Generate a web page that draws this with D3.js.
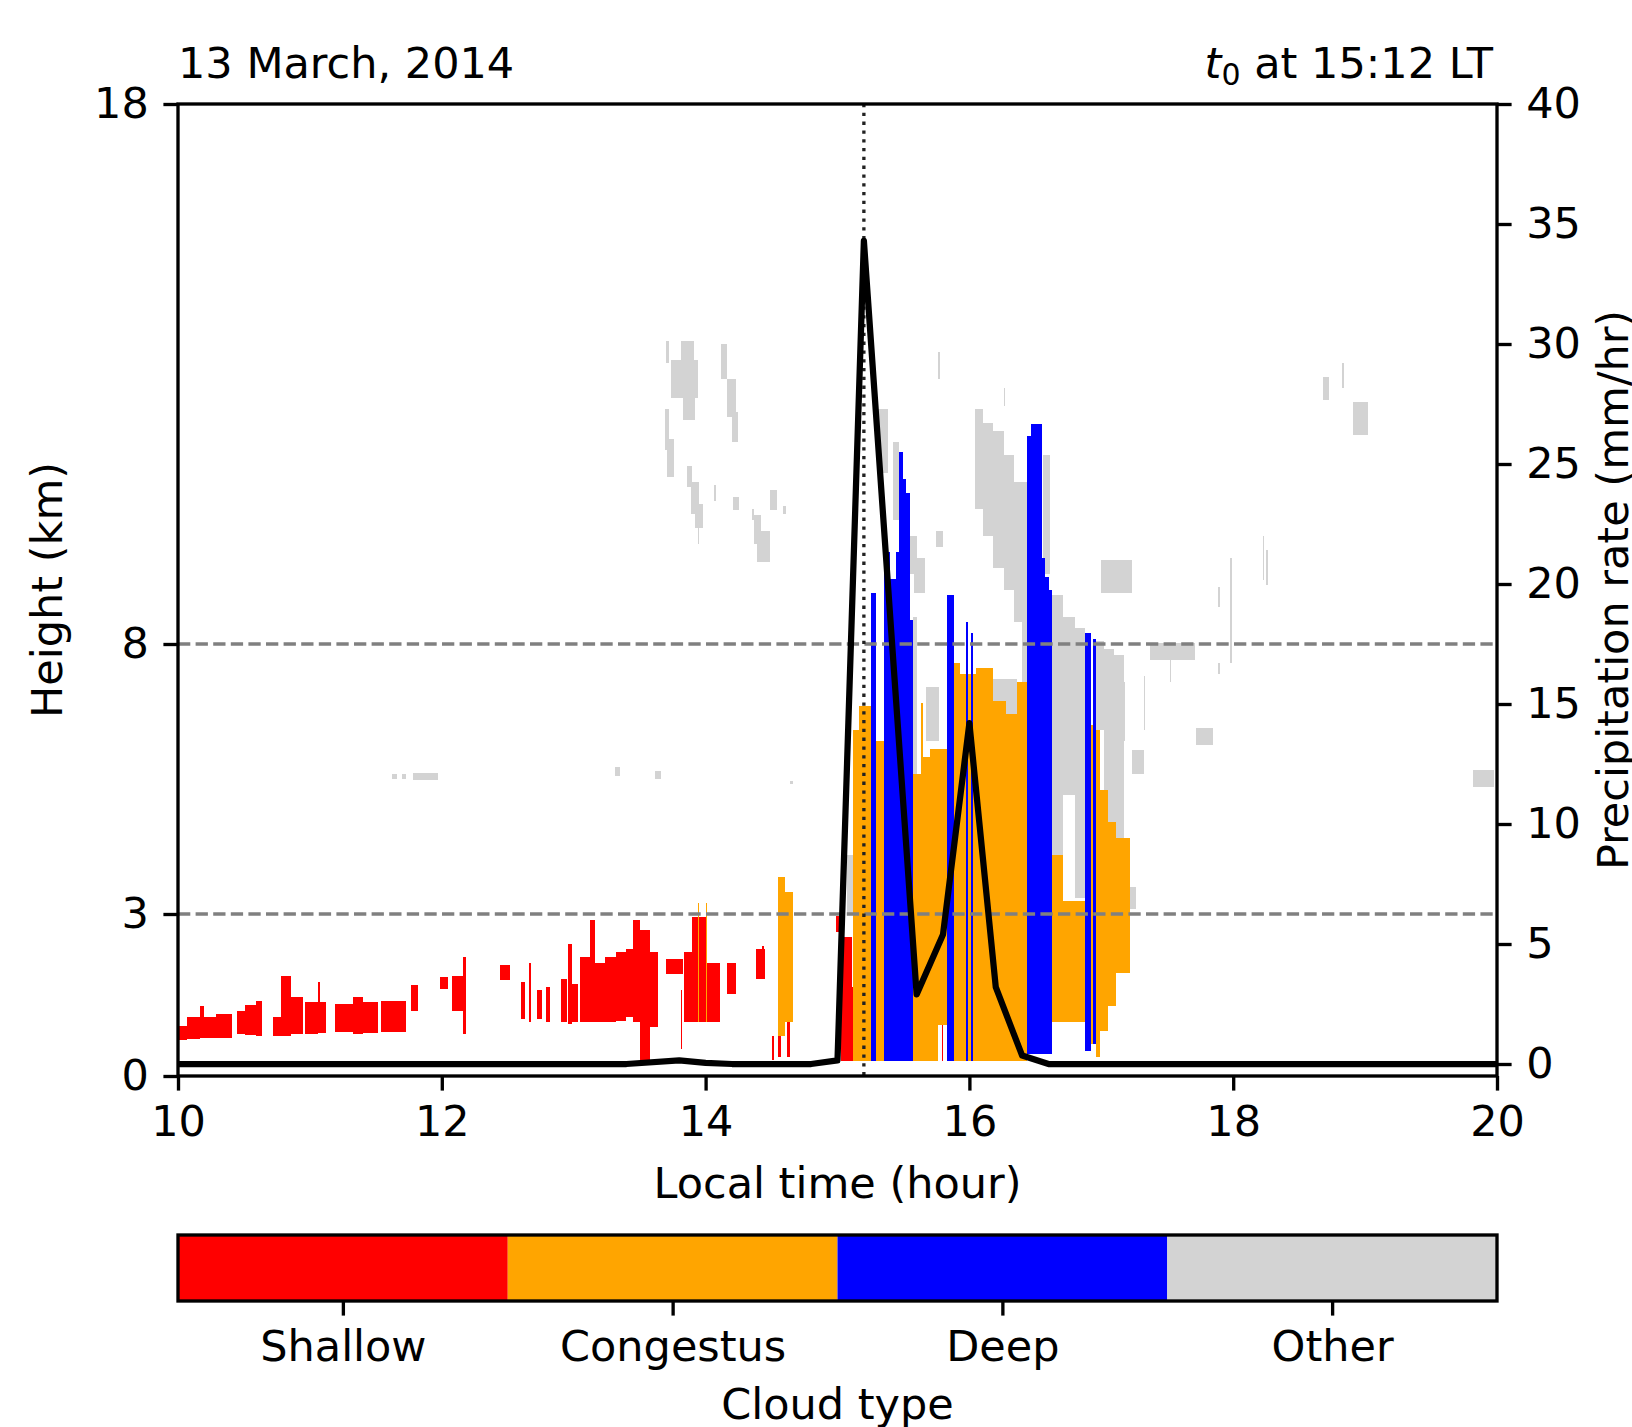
<!DOCTYPE html>
<html>
<head>
<meta charset="utf-8">
<script src="https://cdn.jsdelivr.net/npm/d3@7"></script>
<style>
  html, body { margin: 0; padding: 0; background: #fff; overflow: hidden; }
  svg { display: block; }
  svg text { font-family: "DejaVu Sans", sans-serif; }
</style>
</head>
<body>
<div id="chart"></div>
<script>
// radar cloud cells: [time start (h), time end (h), base (km), top (km)]
const shallowCells = [
  [10.00,10.07,0.66,0.92],[10.07,10.17,0.68,1.09],[10.17,10.20,0.70,1.29],[10.20,10.29,0.70,1.09],
  [10.29,10.41,0.70,1.14],[10.45,10.51,0.78,1.21],[10.51,10.59,0.76,1.31],[10.59,10.64,0.74,1.39],
  [10.72,10.78,0.75,1.09],[10.78,10.86,0.75,1.85],[10.86,10.95,0.77,1.46],[10.96,11.06,0.77,1.37],
  [11.06,11.08,0.80,1.74],[11.08,11.12,0.80,1.37],[11.19,11.33,0.81,1.34],[11.33,11.40,0.78,1.46],
  [11.40,11.52,0.80,1.37],[11.54,11.73,0.81,1.38],[11.77,11.82,1.21,1.68],[11.99,12.05,1.61,1.84],
  [12.08,12.16,1.21,1.86],[12.16,12.18,0.78,2.21],[12.44,12.52,1.77,2.05],[12.60,12.63,1.05,1.75],
  [12.66,12.68,1.00,2.10],[12.72,12.76,1.05,1.60],[12.79,12.82,1.00,1.65],[12.90,12.95,1.00,1.80],
  [12.96,12.99,0.97,2.45],[12.99,13.03,1.00,1.70],[13.05,13.12,1.00,2.20],[13.12,13.16,1.00,2.88],
  [13.16,13.24,1.00,2.10],[13.24,13.32,1.00,2.20],[13.32,13.40,1.02,2.30],[13.40,13.45,1.09,2.35],
  [13.45,13.50,1.00,2.88],[13.50,13.58,0.29,2.70],[13.58,13.64,0.90,2.30],[13.70,13.83,1.89,2.17],
  [13.81,13.82,0.50,1.60],[13.84,13.90,1.00,2.30],[13.90,14.00,1.00,2.94],[14.00,14.11,1.00,2.10],
  [14.16,14.23,1.52,2.10],[14.38,14.45,1.80,2.35],[14.43,14.44,1.80,2.40],[14.50,14.52,0.30,0.75],
  [14.55,14.57,0.35,1.00],[14.62,14.64,0.35,1.50],[14.99,15.02,2.66,2.97],[15.03,15.11,0.28,2.57],
  [15.11,15.18,0.28,1.64],[15.26,15.29,0.28,0.60],[15.79,15.80,0.28,2.80]
];
const congestusCells = [
  [13.94,13.945,1.00,3.20],[14.00,14.005,1.00,3.20],[14.55,14.60,0.75,3.68],[14.60,14.66,1.00,3.40],
  [15.12,15.16,0.28,6.40],[15.16,15.255,0.28,6.85],[15.29,15.35,0.28,6.20],[15.575,15.63,0.28,5.60],
  [15.63,15.65,0.28,6.90],[15.65,15.70,0.28,5.90],[15.70,15.76,0.28,6.05],[15.76,15.83,0.95,6.05],
  [15.88,15.93,0.28,7.65],[15.93,16.05,0.28,7.45],[16.05,16.18,0.28,7.55],[16.18,16.28,0.28,6.95],
  [16.28,16.36,0.28,6.70],[16.36,16.435,0.28,7.30],[16.63,16.71,1.00,4.10],[16.71,16.875,1.00,3.25],
  [16.92,16.94,0.60,6.50],[16.96,16.99,0.35,6.40],[16.99,17.05,0.84,5.30],[17.05,17.11,1.30,4.70],
  [17.11,17.22,1.90,4.40]
];
const deepCells = [
  [15.255,15.29,0.28,8.95],[15.35,15.40,0.28,9.70],[15.40,15.44,0.28,9.20],[15.44,15.47,0.28,9.70],
  [15.47,15.50,0.28,11.55],[15.50,15.52,0.28,11.05],[15.52,15.55,0.28,10.80],[15.55,15.575,0.28,8.45],
  [15.83,15.88,0.28,8.90],[15.975,15.983,0.28,8.40],[16.015,16.022,0.28,8.20],[16.435,16.47,0.40,11.85],
  [16.47,16.55,0.40,12.08],[16.55,16.57,0.40,9.60],[16.57,16.60,0.40,9.25],[16.60,16.63,0.40,9.00],
  [16.875,16.92,0.47,8.20],[16.94,16.96,0.60,8.10]
];
const otherCells = [
  [11.62,11.66,5.50,5.60],[11.70,11.73,5.50,5.60],[11.78,11.97,5.48,5.62],[13.31,13.35,5.55,5.72],
  [13.62,13.66,5.50,5.65],[14.64,14.66,5.40,5.46],[13.70,13.72,13.20,13.62],[13.81,13.91,13.20,13.62],
  [13.74,13.945,12.55,13.26],[13.83,13.92,12.15,12.55],[13.69,13.72,11.60,12.35],[13.71,13.76,11.10,11.80],
  [13.86,13.90,10.90,11.30],[13.89,13.95,10.40,11.00],[13.92,13.98,10.15,10.60],[13.94,13.95,9.85,10.20],
  [14.065,14.075,10.65,10.95],[14.12,14.16,12.90,13.55],[14.16,14.23,12.20,12.90],[14.20,14.245,11.75,12.30],
  [14.21,14.25,10.48,10.73],[14.355,14.365,10.30,10.50],[14.37,14.42,9.85,10.39],[14.39,14.49,9.52,10.10],
  [14.49,14.54,10.48,10.85],[14.59,14.61,10.40,10.55],[15.07,15.12,3.00,4.10],[15.31,15.385,11.16,12.36],
  [15.42,15.47,10.30,11.75],[15.55,15.60,9.30,10.00],[15.58,15.66,8.95,9.60],[15.575,15.60,5.50,8.50],
  [15.67,15.77,6.20,7.20],[15.75,15.80,9.80,10.10],[15.765,15.78,12.90,13.40],[16.04,16.10,10.50,12.35],
  [16.10,16.18,10.00,12.10],[16.18,16.26,9.40,11.95],[16.26,16.34,9.00,11.50],[16.34,16.44,8.40,11.00],
  [16.26,16.27,12.40,12.75],[16.18,16.36,6.65,7.35],[16.40,16.435,7.30,8.40],[16.56,16.61,9.30,11.50],
  [16.63,16.71,4.10,8.90],[16.71,16.80,5.20,8.50],[16.80,16.875,3.30,8.30],[16.96,17.02,6.40,8.05],
  [17.02,17.10,4.70,7.90],[17.10,17.17,4.40,7.80],[17.165,17.175,6.20,7.30],[17.19,17.26,3.10,3.50],
  [17.00,17.23,8.94,9.55],[17.23,17.32,5.60,6.04],[17.32,17.33,6.40,7.40],[17.37,17.71,7.71,8.01],
  [17.52,17.53,7.30,7.75],[17.72,17.85,6.13,6.44],[17.885,17.895,8.69,9.06],[17.885,17.895,7.45,7.65],
  [17.975,17.99,7.64,9.60],[18.225,18.235,9.18,10.00],[18.25,18.26,9.10,9.75],[18.68,18.73,12.52,12.95],
  [18.825,18.835,12.74,13.20],[18.91,19.02,11.87,12.49],[19.82,19.98,5.36,5.67]
];

// precipitation rate (mm/hr) at local time (h)
const precipTime = [10.0, 13.4, 13.8, 14.0, 14.2, 14.8, 15.0, 15.2, 15.6, 15.8, 16.0, 16.2, 16.4, 16.6, 20.0];
const precipRate = [0,    0,    0.15, 0.05, 0,    0,    0.15, 34.3, 2.9,  5.4,  14.2, 3.2,  0.35, 0,    0];

const cloudTypes  = ["Shallow", "Congestus", "Deep", "Other"];
const cloudColors = ["#ff0000", "#ffa500", "#0000ff", "#d3d3d3"];
const timeTicks   = [10, 12, 14, 16, 18, 20];
const heightTicks = [0, 3, 8, 18];
const rateTicks   = [0, 5, 10, 15, 20, 25, 30, 35, 40];
const refHeights  = [3, 8];
const t0 = 15.2;

const width  = 1632;
const height = 1427;
const margin = { top: 104, right: 135, bottom: 351, left: 178 };
const innerWidth  = width  - margin.left - margin.right;
const innerHeight = height - margin.top  - margin.bottom;
const fontSize = 43;
const lw = 3.33;

const svg = d3.select("#chart")
  .append("svg")
  .attr("width", width)
  .attr("height", height);

const innerChart = svg.append("g")
  .attr("transform", `translate(${margin.left}, ${margin.top})`);

const xScale = d3.scaleLinear().domain([10, 20]).range([0, innerWidth]);
const yHeight = d3.scaleLinear().domain([0, 18]).range([innerHeight, 0]);
const yRate = d3.scaleLinear().domain([-0.5, 40]).range([innerHeight, 0]);

svg.append("clipPath").attr("id", "plot-clip")
  .append("rect").attr("width", innerWidth).attr("height", innerHeight);

const plot = innerChart.append("g").attr("clip-path", "url(#plot-clip)");

// cloud mask, drawn Other first so convective types sit on top
const layers = [
  { cells: otherCells,     color: cloudColors[3] },
  { cells: shallowCells,   color: cloudColors[0] },
  { cells: congestusCells, color: cloudColors[1] },
  { cells: deepCells,      color: cloudColors[2] }
];
layers.forEach(layer => {
  plot.append("g")
    .selectAll("rect")
    .data(layer.cells)
    .join("rect")
      .attr("x", d => xScale(d[0]))
      .attr("y", d => yHeight(d[3]))
      .attr("width", d => Math.max(1.5, xScale(d[1]) - xScale(d[0])))
      .attr("height", d => yHeight(d[2]) - yHeight(d[3]))
      .attr("fill", layer.color)
      .attr("shape-rendering", "crispEdges");
});

plot.selectAll(".ref")
  .data(refHeights)
  .join("line")
    .attr("class", "ref")
    .attr("x1", 0).attr("x2", innerWidth)
    .attr("y1", d => yHeight(d)).attr("y2", d => yHeight(d))
    .attr("stroke", "#808080")
    .attr("stroke-width", lw)
    .attr("stroke-dasharray", "12.3,5.3");

plot.append("line")
  .attr("x1", xScale(t0)).attr("x2", xScale(t0))
  .attr("y1", 0).attr("y2", innerHeight)
  .attr("stroke", "#222")
  .attr("stroke-width", lw)
  .attr("stroke-dasharray", "3.3,5.5");

const precip = precipTime.map((t, i) => ({ t, r: precipRate[i] }));
plot.append("path")
  .datum(precip)
  .attr("fill", "none")
  .attr("stroke", "black")
  .attr("stroke-width", 6.25)
  .attr("stroke-linejoin", "round")
  .attr("d", d3.line().x(d => xScale(d.t)).y(d => yRate(d.r)));

// axes
const styleAxis = sel => {
  sel.select(".domain").remove();
  sel.selectAll(".tick line").attr("stroke-width", lw).attr("stroke", "black");
  sel.selectAll(".tick text")
    .attr("font-family", "DejaVu Sans")
    .attr("font-size", fontSize)
    .attr("fill", "black");
  sel.attr("font-family", null).attr("font-size", null);
};

innerChart.append("g")
  .attr("transform", `translate(0, ${innerHeight})`)
  .call(d3.axisBottom(xScale).tickValues(timeTicks).tickSize(14.6).tickPadding(14.6).tickSizeOuter(0))
  .call(styleAxis);

innerChart.append("g")
  .call(d3.axisLeft(yHeight).tickValues(heightTicks).tickSize(14.6).tickPadding(14.6).tickSizeOuter(0))
  .call(styleAxis);

innerChart.append("g")
  .attr("transform", `translate(${innerWidth}, 0)`)
  .call(d3.axisRight(yRate).tickValues(rateTicks).tickSize(14.6).tickPadding(14.6).tickSizeOuter(0))
  .call(styleAxis);

innerChart.append("rect")
  .attr("width", innerWidth)
  .attr("height", innerHeight)
  .attr("fill", "none")
  .attr("stroke", "black")
  .attr("stroke-width", lw);

// titles and labels
innerChart.append("text")
  .attr("x", 0).attr("y", -26)
  .attr("font-size", fontSize)
  .text("13 March, 2014");

const rightTitle = innerChart.append("text")
  .attr("x", innerWidth - 4).attr("y", -26)
  .attr("text-anchor", "end")
  .attr("font-size", fontSize);
rightTitle.append("tspan").attr("font-style", "italic").text("t");
rightTitle.append("tspan").attr("font-size", 30).attr("dy", 7).text("0");
rightTitle.append("tspan").attr("dy", -7).text(" at 15:12 LT");

innerChart.append("text")
  .attr("x", innerWidth / 2).attr("y", innerHeight + 122)
  .attr("text-anchor", "middle")
  .attr("font-size", fontSize)
  .text("Local time (hour)");

innerChart.append("text")
  .attr("transform", "rotate(-90)")
  .attr("x", -innerHeight / 2)
  .attr("y", -116)
  .attr("text-anchor", "middle")
  .attr("font-size", fontSize)
  .text("Height (km)");

innerChart.append("text")
  .attr("transform", "rotate(-90)")
  .attr("x", -innerHeight / 2)
  .attr("y", innerWidth + 131)
  .attr("text-anchor", "middle")
  .attr("font-size", fontSize)
  .text("Precipitation rate (mm/hr)");

// colour bar
const cbTop = 1235 - margin.top;
const cbHeight = 66;
const cbScale = d3.scaleBand().domain(cloudTypes).range([0, innerWidth]).padding(0);
const cbTicks = d3.scalePoint().domain(cloudTypes)
  .range([cbScale.bandwidth() / 2, innerWidth - cbScale.bandwidth() / 2]);

innerChart.selectAll(".cb")
  .data(cloudTypes)
  .join("rect")
    .attr("class", "cb")
    .attr("x", d => cbScale(d))
    .attr("y", cbTop)
    .attr("width", cbScale.bandwidth())
    .attr("height", cbHeight)
    .attr("fill", (d, i) => cloudColors[i]);

innerChart.append("g")
  .attr("transform", `translate(0, ${cbTop + cbHeight})`)
  .call(d3.axisBottom(cbTicks).tickSize(14.6).tickPadding(14.6).tickSizeOuter(0))
  .call(styleAxis);

innerChart.append("rect")
  .attr("y", cbTop)
  .attr("width", innerWidth)
  .attr("height", cbHeight)
  .attr("fill", "none")
  .attr("stroke", "black")
  .attr("stroke-width", lw);

innerChart.append("text")
  .attr("x", innerWidth / 2).attr("y", 1419 - margin.top)
  .attr("text-anchor", "middle")
  .attr("font-size", fontSize)
  .text("Cloud type");
</script>
</body>
</html>
